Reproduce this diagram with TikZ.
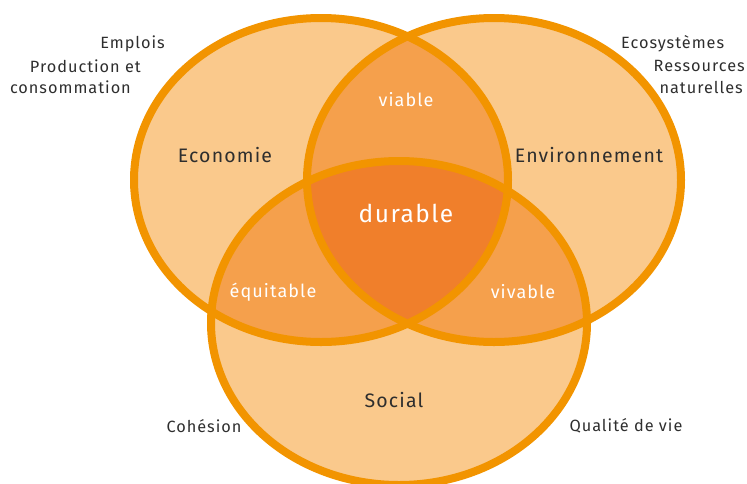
\documentclass[tikz,border=0pt]{standalone}
\usepackage{fontspec}
\setmainfont{Fira Sans}[LetterSpace=6]
\definecolor{ringc}{HTML}{F29400}
\definecolor{fillone}{HTML}{FAC98C}
\definecolor{filltwo}{HTML}{F5A04C}
\definecolor{fillthree}{HTML}{F07F2B}
\definecolor{txtc}{HTML}{2E2E2E}
\tikzset{
  ring/.style={draw=ringc, line width=8pt},
  side/.style={text=txtc, font=\fontsize{16.3}{18}\selectfont, inner sep=0pt},
  mainlbl/.style={text=txtc, font=\fontsize{19.5}{21}\selectfont, inner sep=0pt},
  inlbl/.style={text=white, font=\fontsize{18}{20}\selectfont, inner sep=0pt},
}
\begin{document}
\begin{tikzpicture}[x=1pt,y=-1pt]
\useasboundingbox (0,0) rectangle (747,483);
\def\eco{(321,180) ellipse [x radius=187, y radius=162]}
\def\env{(494,180) ellipse [x radius=187, y radius=162]}
\def\soc{(399,323) ellipse [x radius=188, y radius=162]}
\begin{scope}
\clip (0,0) rectangle (747,483);
\fill[fillone] \eco;
\fill[fillone] \env;
\fill[fillone] \soc;
\begin{scope}\clip \eco; \fill[filltwo] \env; \fill[filltwo] \soc; \end{scope}
\begin{scope}\clip \env; \fill[filltwo] \soc; \end{scope}
\begin{scope}\clip \eco; \clip \env; \fill[fillthree] \soc; \end{scope}
\draw[ring] \eco;
\draw[ring] \env;
\draw[ring] \soc;
\end{scope}
\node[side, anchor=east] (emp) at (165,44) {Emplois};
\node[side, anchor=east] (prod) at (141,66) {Production et};
\node[side, anchor=east] (cons) at (131,87) {consommation};
\node[side, anchor=west] (ecos) at (621,44) {Ecosystèmes};
\node[side, anchor=east] (ress) at (745,66) {Ressources};
\node[side, anchor=east] (nat) at (743,87) {naturelles};
\node[mainlbl] (econ) at (225,155) {Economie};
\node[mainlbl] (envi) at (589,155) {Environnement};
\node[mainlbl] (soci) at (394,400) {Social};
\node[side] (coh) at (204,426) {Cohésion};
\node[side] (qual) at (626,426) {Qualité de vie};
\node[inlbl] (via) at (406,100) {viable};
\node[inlbl, font=\fontsize{24.5}{26}\selectfont] (dur) at (406,213) {durable};
\node[inlbl] (equ) at (273,292) {équitable};
\node[inlbl] (viv) at (523,292) {vivable};
\end{tikzpicture}
\end{document}
